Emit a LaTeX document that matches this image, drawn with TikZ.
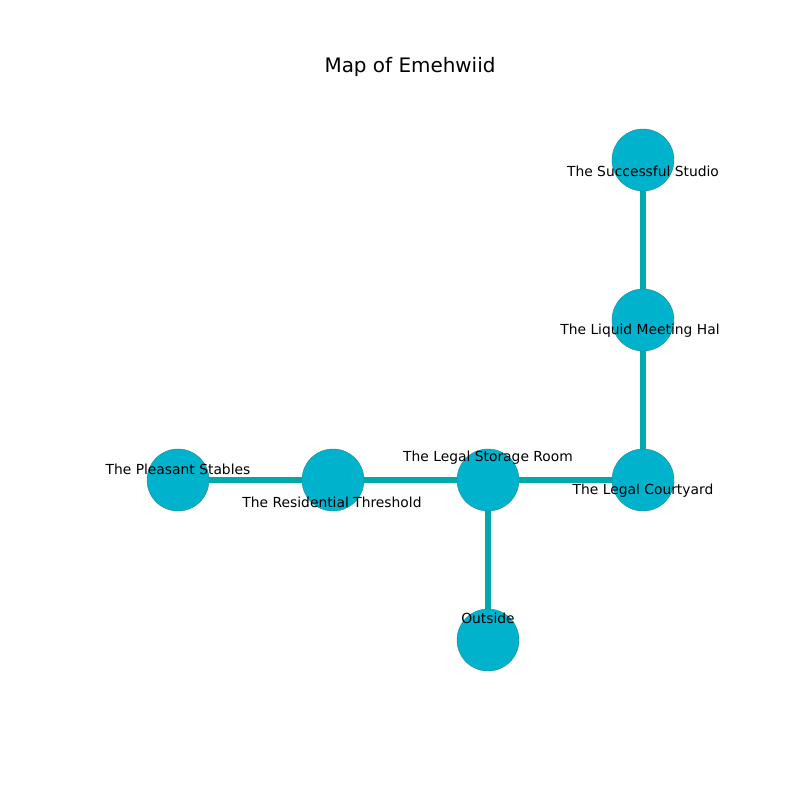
\documentclass[tikz,border=0pt]{standalone}
\usepackage{fontspec}
\setmainfont{DejaVu Sans}
\usetikzlibrary{backgrounds}
\definecolor{roomfill}{HTML}{00B2CC}
\definecolor{roomline}{HTML}{1A8C9C}
\definecolor{pathcol}{HTML}{00A9AC}
\tikzset{
    room/.style={circle, fill=roomfill, draw=roomline, line width=0.3pt, minimum size=62\unitpx, inner sep=0pt},
    roomlabel/.style={font=\fontsize{10}{12}\selectfont, inner sep=0pt},
    passage/.style={pathcol, line width=3.8pt}
}
\newlength{\unitpx}
\setlength{\unitpx}{0.01in}
\begin{document}
\begin{tikzpicture}[x=0.01in, y=-0.01in]
    \useasboundingbox (0,0) rectangle (800,800);
    \node[font=\fontsize{14.4}{17}\selectfont] (title) at (410,67) {Map of Emehwiid};

    \node[room] (studio)    at (643,160) {};
    \node[room] (meeting)   at (643,320) {};
    \node[room] (courtyard) at (643,480) {};
    \node[room] (storage)   at (488,480) {};
    \node[room] (threshold) at (333,480) {};
    \node[room] (stables)   at (178,480) {};
    \node[room] (outside)   at (488,640) {};

    \begin{pgfonlayer}{background}
        \draw[passage] (studio) -- (meeting);
        \draw[passage] (meeting) -- (courtyard);
        \draw[passage] (courtyard) -- (storage);
        \draw[passage] (storage) -- (threshold);
        \draw[passage] (threshold) -- (stables);
        \draw[passage] (storage) -- (outside);
    \end{pgfonlayer}

    \node[roomlabel] (lstudio)    at (643,171) {The Successful Studio};
    \node[roomlabel] (lmeeting)   at (640,331) {The Liquid Meeting Hal};
    \node[roomlabel] (lcourtyard) at (643,491) {The Legal Courtyard};
    \node[roomlabel] (lstorage)   at (488,458) {The Legal Storage Room};
    \node[roomlabel] (lthreshold) at (332,502) {The Residential Threshold};
    \node[roomlabel] (lstables)   at (178,469) {The Pleasant Stables};
    \node[roomlabel] (loutside)   at (488,618) {Outside};
\end{tikzpicture}
\end{document}
